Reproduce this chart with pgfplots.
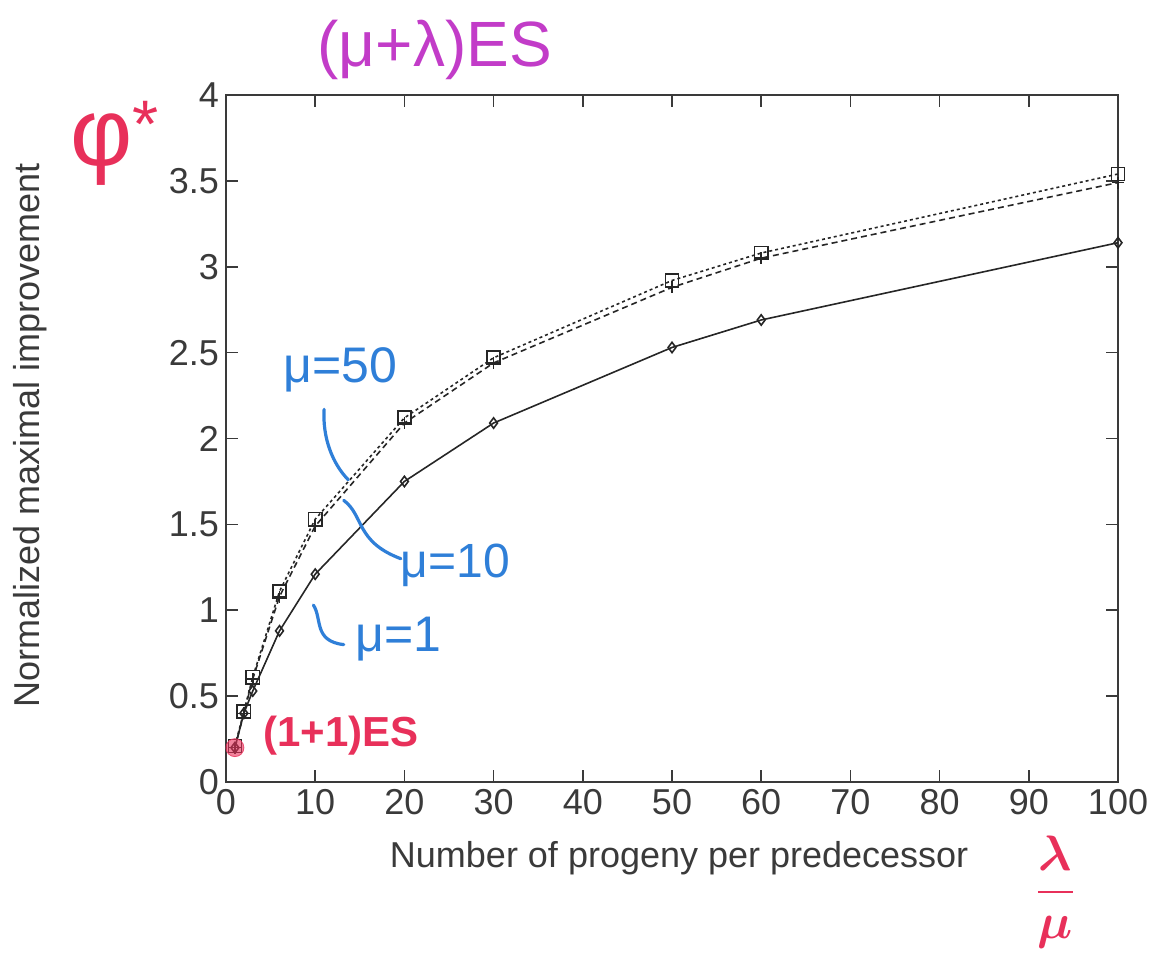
\documentclass[border=0pt]{standalone}
\usepackage{amsmath}
\usepackage{pgfplots}
\pgfplotsset{compat=1.18}
\usepackage{fontspec}
\setmainfont{Liberation Sans}
\definecolor{txt}{HTML}{3A3A3A}
\definecolor{hpink}{HTML}{C23CC8}
\definecolor{hred}{HTML}{E8305A}
\definecolor{hblue}{HTML}{2F7FD8}
\begin{document}
\begin{tikzpicture}
\begin{axis}[name=ax, scale only axis, width=446pt, height=343.5pt,
  xmin=0, xmax=100, ymin=0, ymax=4,
  xtick={0,10,...,100}, ytick={0,0.5,...,4},
  xtick pos=both, ytick pos=both, tick align=inside, major tick length=6pt,
  tick style={txt, line width=0.8pt},
  axis line style={txt, line width=0.9pt},
  /pgf/number format/assume math mode=true,
  ticklabel style={font=\fontsize{18}{20}\selectfont, text=txt},
  xlabel={Number of progeny per predecessor},
  ylabel={Normalized maximal improvement},
  label style={font=\fontsize{18}{20}\selectfont, text=txt},
  xlabel style={at={(axis description cs:0.508,-0.111)}, anchor=center},
  ylabel style={at={(axis description cs:-0.22,0.505)}, anchor=center},
  clip=false]
% mu = 1
\addplot[black!85, line width=0.8pt, mark=diamond, mark size=2.6pt, mark options={solid, fill=white}]
  coordinates {(1,0.2)(2,0.40)(3,0.53)(6,0.88)(10,1.21)(20,1.75)(30,2.09)(50,2.53)(60,2.69)(100,3.14)};
% mu = 10
\addplot[black!85, line width=0.8pt, dash pattern=on 3pt off 2pt, mark=+, mark size=3pt, mark options={solid}]
  coordinates {(1,0.2)(2,0.40)(3,0.60)(6,1.08)(10,1.49)(20,2.09)(30,2.44)(50,2.88)(60,3.05)(100,3.49)};
% mu = 50
\addplot[black!85, line width=0.8pt, dash pattern=on 1.5pt off 1.5pt, mark=square, mark size=3.3pt, mark options={solid}]
  coordinates {(1,0.21)(2,0.41)(3,0.61)(6,1.11)(10,1.53)(20,2.12)(30,2.47)(50,2.92)(60,3.08)(100,3.54)};
% highlight of (1+1)ES
\addplot[only marks, mark=*, mark size=4.5pt, color=hred, fill opacity=0.6, draw opacity=0.8]
  coordinates {(1,0.2)};
% annotations
\node[text=hpink, font=\fontsize{32}{34}\selectfont] at (axis cs:23.4,4.26) {(μ+λ)ES};
\node[text=hred, font=\fontsize{48}{50}\selectfont] at (axis cs:-12.4,3.72) {φ\textsuperscript{*}};
\node[text=hblue, font=\fontsize{25}{27}\selectfont] at (axis cs:12.8,2.40) {μ=50};
\node[text=hblue, font=\fontsize{24}{26}\selectfont] at (axis cs:25.7,1.26) {μ=10};
\node[text=hblue, font=\fontsize{25}{27}\selectfont] at (axis cs:19.3,0.83) {μ=1};
\node[text=hred, font=\bfseries\fontsize{21}{23}\selectfont, anchor=west] at (axis cs:3.4,0.27) {(1+1)ES};
\node[text=hred, font=\fontsize{30}{32}\selectfont] at (axis cs:93.0,-0.64) {$\displaystyle\frac{\boldsymbol{\lambda}}{\boldsymbol{\mu}}$};
\draw[hblue, line width=1.6pt, line cap=round] (axis cs:11.0,2.17) .. controls (axis cs:10.8,2.0) and (axis cs:12.0,1.85) .. (axis cs:13.7,1.76);
\draw[hblue, line width=1.6pt, line cap=round] (axis cs:13.2,1.64) .. controls (axis cs:15.5,1.55) and (axis cs:14.5,1.40) .. (axis cs:19.6,1.30);
\draw[hblue, line width=1.6pt, line cap=round] (axis cs:9.8,1.03) .. controls (axis cs:10.8,0.95) and (axis cs:9.8,0.82) .. (axis cs:13.2,0.80);
\end{axis}
\pgfresetboundingbox
\path (ax.south west) ++(-113pt,-88pt) rectangle ++(579.5pt,479pt);
\end{tikzpicture}
\end{document}
